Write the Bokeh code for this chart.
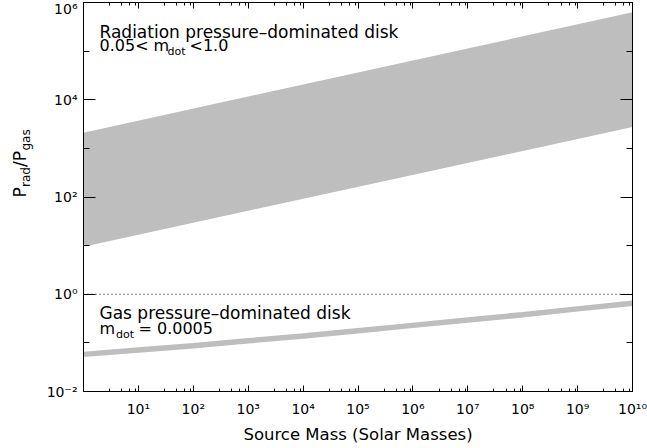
from bokeh.plotting import figure
from bokeh.layouts import row
from bokeh.models import LogAxis, FixedTicker, Span, Label, Range1d
from bokeh.embed import file_html
from bokeh.resources import INLINE

# ---------------- data ----------------
# radiation-pressure dominated band (0.05 < mdot < 1.0)
band_mass = [1.0, 1.0e10]
band_upper = [2100.0, 6.3e5]     # mdot = 1.0
band_lower = [9.5, 2750.0]       # mdot = 0.05

# gas-pressure dominated disk, mdot = 0.0005
gas_mass = [1.0, 1e1, 1e2, 1e3, 1e4, 1e5, 1e6, 1e7, 1e8, 1e9, 1e10]
gas_ratio = [0.058, 0.071, 0.087, 0.110, 0.138, 0.178, 0.229, 0.295, 0.380, 0.500, 0.650]

equal_level = 1.0

x_major = [1e1, 1e2, 1e3, 1e4, 1e5, 1e6, 1e7, 1e8, 1e9, 1e10]
x_major_labels = ["10¹", "10²", "10³", "10⁴", "10⁵", "10⁶", "10⁷", "10⁸", "10⁹", "10¹⁰"]
x_minor_mult = [3, 5, 7, 9]
y_major = [1e-2, 1e0, 1e2, 1e4, 1e6]
y_major_labels = ["10⁻²", "10⁰", "10²", "10⁴", "10⁶"]
y_minor = [1e-1, 1e1, 1e3, 1e5]

x_label = "Source Mass (Solar Masses)"

FONT = "DejaVu Sans"
GREY = "#bebebe"

x_minor = [m * 10.0 ** d for d in range(0, 10) for m in x_minor_mult]

LEFT_W = 43

p = figure(width=647 - LEFT_W, height=448,
           x_axis_type="log", y_axis_type="log",
           x_range=Range1d(1.0, 1.0e10), y_range=Range1d(1.0e-2, 1.0e6),
           output_backend="svg", toolbar_location=None,
           min_border_left=83 - LEFT_W, min_border_right=15,
           min_border_top=2, min_border_bottom=57)
p.grid.visible = False
p.outline_line_color = "black"
p.background_fill_color = "white"
p.border_fill_color = "white"

p.varea(x=band_mass, y1=band_lower, y2=band_upper, fill_color=GREY, fill_alpha=1.0)
p.line(gas_mass, gas_ratio, line_color=GREY, line_width=5.5)
p.add_layout(Span(location=equal_level, dimension="width", line_color="black",
                  line_dash="1 3", line_width=1))


def style_axis(ax, major, minor, major_len, minor_len, labels=None):
    ax.ticker = FixedTicker(ticks=major, minor_ticks=minor)
    ax.axis_line_color = "black"
    ax.axis_line_width = 1
    ax.major_tick_line_color = "black"
    ax.minor_tick_line_color = "black"
    ax.major_tick_in = major_len
    ax.major_tick_out = 0
    ax.minor_tick_in = minor_len
    ax.minor_tick_out = 0
    if labels is None:
        ax.major_label_text_font_size = "1px"
        ax.major_label_text_alpha = 0
        ax.major_label_standoff = 0
        ax.axis_label_standoff = 0
    else:
        ax.major_label_overrides = {v: s for v, s in zip(major, labels)}
        ax.major_label_text_font = FONT
        ax.major_label_text_font_size = "14px"
        ax.major_label_text_color = "black"


xb = p.xaxis[0]
style_axis(xb, x_major, x_minor, 6, 3, x_major_labels)
xb.major_label_standoff = 9
xb.axis_label = x_label
xb.axis_label_text_font = FONT
xb.axis_label_text_font_size = "16.5px"
xb.axis_label_text_font_style = "normal"
xb.axis_label_text_color = "black"
xb.axis_label_standoff = 5

yl = p.yaxis[0]
style_axis(yl, y_major, y_minor, 12, 6, y_major_labels)
yl.major_label_standoff = 6

xt = LogAxis()
style_axis(xt, x_major, x_minor, 6, 3)
p.add_layout(xt, "above")
yr = LogAxis()
style_axis(yr, y_major, y_minor, 12, 6)
p.add_layout(yr, "right")


def lab(fig, x, y, text, size, angle=0):
    fig.add_layout(Label(x=x, y=y, x_units="screen", y_units="screen", text=text,
                         text_font=FONT, text_font_size=size, text_color="black",
                         text_baseline="alphabetic", text_align="left",
                         angle=angle, angle_units="deg", level="overlay"))

# annotations inside the frame (screen px from frame's lower-left corner)
lab(p, 16, 360, "Radiation pressure\u2013dominated disk", "17px")
lab(p, 16, 346, "0.05< m", "16px")
lab(p, 84, 340, "dot", "11px")
lab(p, 106, 346, "<1.0", "16px")

lab(p, 16, 79, "Gas pressure\u2013dominated disk", "17px")
lab(p, 16, 63, "m", "16px")
lab(p, 32.5, 57, "dot", "11px")
lab(p, 55, 63, "= 0.0005", "16px")

# left strip holding the rotated y axis title
left = figure(width=LEFT_W, height=448, output_backend="svg", toolbar_location=None,
              x_range=Range1d(0, 1), y_range=Range1d(0, 1),
              x_axis_location=None, y_axis_location=None, min_border=0)
left.grid.visible = False
left.outline_line_color = None
left.background_fill_color = "white"
left.border_fill_color = "white"

lab(left, 19, 194, "P", "17px", 90)
lab(left, 25.5, 204.5, "rad", "12px", 90)
lab(left, 19, 224.5, "/P", "17px", 90)
lab(left, 25.5, 241, "gas", "12px", 90)

layout = row(left, p, spacing=0)
open("out.html", "w").write(file_html(layout, INLINE))
